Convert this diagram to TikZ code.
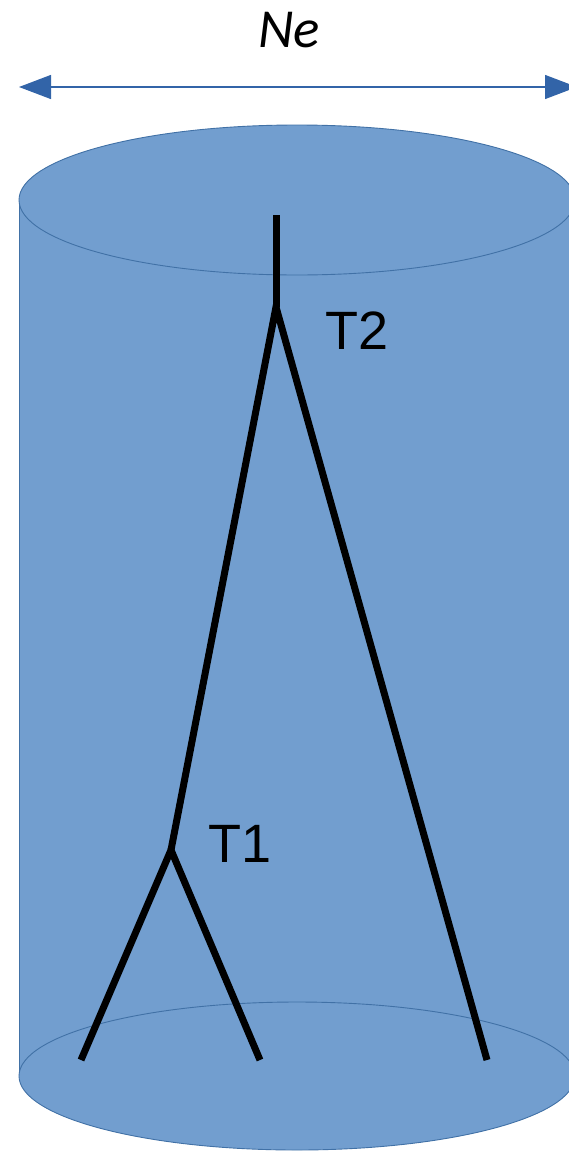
\documentclass[tikz,border=0pt]{standalone}
\usepackage{fontspec}
\setmainfont{Liberation Sans}
\newfontfamily\calib{Carlito}
\usetikzlibrary{arrows.meta}
\definecolor{cylfill}{RGB}{114,158,207}
\definecolor{cyledge}{RGB}{65,113,166}
\definecolor{arrowblue}{RGB}{50,100,168}
\tikzset{
  cylpart/.style={fill=cylfill, draw=cyledge, line width=0.9pt},
  branch/.style={draw=black, line width=7pt},
  lbl/.style={font=\fontsize{54}{60}\selectfont, inner sep=0pt},
  widtharrow/.style={draw=arrowblue, line width=1.3pt, {Triangle[length=32pt,width=24pt]}-{Triangle[length=32pt,width=24pt]}}
}
\begin{document}
\begin{tikzpicture}[x=1pt,y=-1pt]
\useasboundingbox (0,0) rectangle (569,1151);
\clip (0,0) rectangle (569,1151);
% cylinder
\fill[cylfill] (19,200) rectangle (575,1076);
\draw[cyledge, line width=0.9pt] (19,200) -- (19,1076);
\draw[cylpart] (297,1076) ellipse [x radius=278, y radius=74];
\draw[cylpart] (297,200) ellipse [x radius=278, y radius=75];
% width arrow
\coordinate (aL) at (19,87);
\coordinate (aR) at (577,87);
\draw[widtharrow] (aL) -- (aR);
\node[font=\calib\itshape\fontsize{55}{60}\selectfont, inner sep=0pt, anchor=base] (ne) at (289,47) {Ne};
% tree
\coordinate (root) at (276,215);
\coordinate (t2) at (276,307);
\coordinate (t1) at (171,850);
\coordinate (l1) at (81,1060);
\coordinate (l2) at (260,1060);
\coordinate (l3) at (487,1060);
\draw[branch] (root) -- (t2);
\draw[branch, line join=miter] (t1) -- (t2) -- (l3);
\draw[branch, line join=miter] (l1) -- (t1) -- (l2);
\node[lbl] (T2) at (357,331) {T2};
\node[lbl] (T1) at (240,844) {T1};
\end{tikzpicture}
\end{document}
